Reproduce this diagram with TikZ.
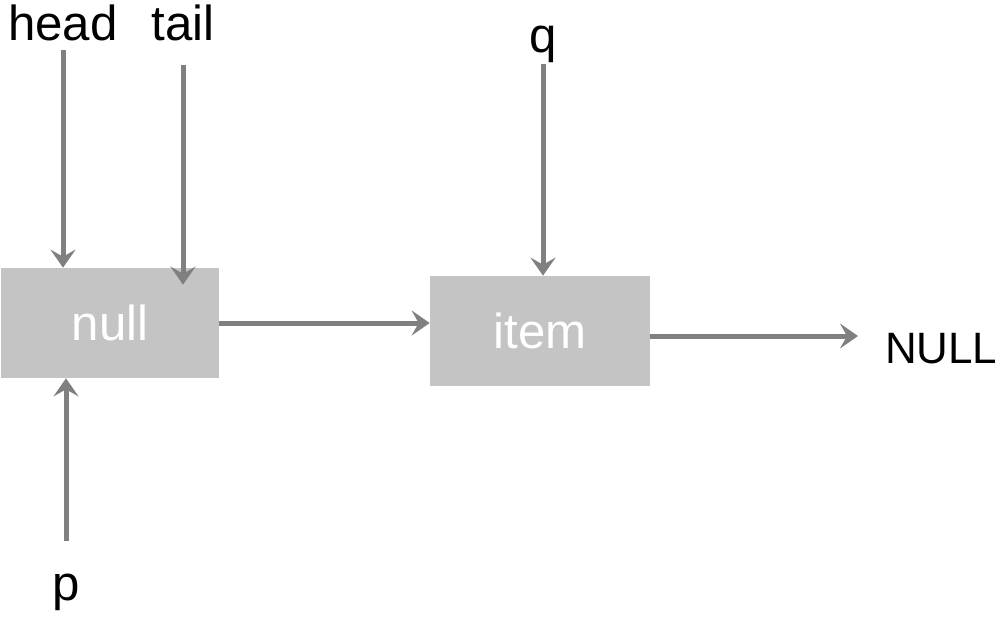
\documentclass[tikz,border=0pt]{standalone}
\usepackage{fontspec}
\setmainfont{Liberation Sans}
\usetikzlibrary{arrows.meta, positioning}
\definecolor{boxgray}{RGB}{196, 196, 196}
\definecolor{arrowgray}{RGB}{128, 128, 128}

\begin{document}
\begin{tikzpicture}[
    box/.style={fill=boxgray, minimum height=2.2cm, font=\fontsize{28}{32}\selectfont, text=white},
    lbl/.style={font=\fontsize{28}{32}\selectfont, inner sep=1pt},
    arr/.style={-{Stealth[length=0.36cm, width=0.5cm, inset=0.14cm]}, line width=0.1cm, arrowgray}
  ]
  \useasboundingbox (0, 0) rectangle (20, -12.34);

  % Boxes
  \node[box, minimum width=4.34cm] (null) at (2.2, -6.46) {null};
  \node[box, minimum width=4.4cm] (item) at (10.8, -6.62) {item};

  % Pointer labels
  \node[lbl, anchor=base] (head) at (1.26, -0.8) {head};
  \node[lbl, anchor=base] (tail) at (3.66, -0.8) {tail};
  \node[lbl, anchor=base] (q) at (10.86, -1.04) {q};
  \node[lbl, anchor=base] (p) at (1.32, -12.0) {p};
  \node[lbl, anchor=base west, font=\fontsize{25}{30}\selectfont] (end) at (17.66, -7.26) {NULL};

  % Pointers
  \draw[arr, shorten <=0.15cm] (head.south) -- (head.south |- null.north);
  \draw[arr, shorten <=0.45cm, shorten >=-0.34cm] (tail.south) -- (tail.south |- null.north);
  \draw[arr] (q.south) -- (q.south |- item.north);
  \draw[arr, shorten <=0.6cm] (p.north) -- (p.north |- null.south);

  % Links
  \draw[arr] (null.east) -- (null.east -| item.west);
  \draw[arr, shorten >=0.5cm] ([yshift=-0.1cm]item.east) -- ([yshift=-0.1cm]item.east -| end.west);
\end{tikzpicture}
\end{document}
